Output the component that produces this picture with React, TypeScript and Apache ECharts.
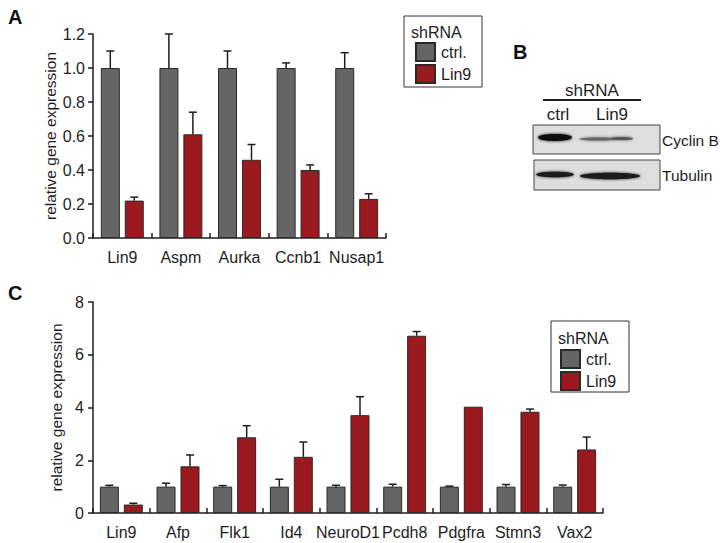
import React, { useEffect, useRef } from "react";
import * as echarts from "echarts";

const genesA = ["Lin9", "Aspm", "Aurka", "Ccnb1", "Nusap1"];
const ctrlA = [1.0, 1.0, 1.0, 1.0, 1.0];
const ctrlErrA = [1.1, 1.2, 1.1, 1.03, 1.09];
const lin9A = [0.22, 0.61, 0.46, 0.4, 0.23];
const lin9ErrA = [0.24, 0.74, 0.55, 0.43, 0.26];
const ticksA = [0, 0.2, 0.4, 0.6, 0.8, 1.0, 1.2];

const genesC = ["Lin9", "Afp", "Flk1", "Id4", "NeuroD1", "Pcdh8", "Pdgfra", "Stmn3", "Vax2"];
const ctrlC = [1.0, 1.0, 1.0, 1.0, 1.0, 1.0, 1.0, 1.0, 1.0];
const ctrlErrC = [1.05, 1.13, 1.04, 1.28, 1.05, 1.09, 1.02, 1.08, 1.06];
const lin9C = [0.32, 1.77, 2.87, 2.13, 3.71, 6.72, 4.03, 3.84, 2.41];
const lin9ErrC = [0.37, 2.2, 3.31, 2.69, 4.41, 6.88, 4.04, 3.94, 2.88];
const ticksC = [0, 2, 4, 6, 8];

const seriesNames = ["ctrl.", "Lin9"];
const FONT = "'Liberation Sans', Arial, sans-serif";
const GREY = "#656565";
const RED = "#9b1a1f";
const INK = "#1e1e1e";
const FS = 16;

function errData(vals: number[], errs: number[], side: number) {
  return vals.map((v, i) => [i, v, errs[i], side]);
}

const errRender = (params: any, api: any) => {
  const i = api.value(0);
  const side = api.value(3);
  const base = api.coord([i, api.value(1)]);
  const top = api.coord([i, api.value(2)]);
  const x = base[0] + side * 12;
  if (Math.abs(top[1] - base[1]) < 0.5) return null;
  return {
    type: "group",
    children: [
      { type: "line", shape: { x1: x, y1: base[1], x2: x, y2: top[1] }, style: { stroke: INK, lineWidth: 1.5 } },
      { type: "line", shape: { x1: x - 4, y1: top[1], x2: x + 4, y2: top[1] }, style: { stroke: INK, lineWidth: 1.5 } },
    ],
  };
};

export default function App() {
  const ref = useRef<HTMLDivElement>(null);
  useEffect(() => {
    document.body.style.margin = "0";
    const chart = echarts.init(ref.current!, null, { renderer: "svg" });

    const xAxisCommon = {
      type: "category",
      axisLine: { lineStyle: { color: INK, width: 1.5 } },
      axisTick: { show: true, inside: true, length: 5, alignWithLabel: false, interval: 0, lineStyle: { color: INK, width: 1.5 } },
      axisLabel: { color: INK, fontSize: FS, fontFamily: FONT, margin: 11, interval: 0 },
    };
    const yAxisCommon = {
      type: "value",
      nameLocation: "middle",
      nameRotate: 90,
      nameTextStyle: { color: INK, fontSize: 15.5, fontFamily: FONT },
      axisLine: { show: true, lineStyle: { color: INK, width: 1.5 } },
      axisTick: { show: true, length: 5, lineStyle: { color: INK, width: 1.5 } },
      splitLine: { show: false },
    };

    const barSeries = (name: string, data: number[], color: string, idx: number) => ({
      type: "bar",
      name,
      xAxisIndex: idx,
      yAxisIndex: idx,
      data,
      barWidth: 19,
      barGap: "26%",
      itemStyle: { color, borderColor: "#2a2a2a", borderWidth: 1 },
    });
    const errSeries = (data: number[][], idx: number) => ({
      type: "custom",
      xAxisIndex: idx,
      yAxisIndex: idx,
      renderItem: errRender,
      data,
      z: 5,
      silent: true,
    });

    const legendCommon = {
      orient: "vertical",
      data: seriesNames,
      icon: "rect",
      itemWidth: 19,
      itemHeight: 18,
      itemGap: 2,
      padding: 0,
      selectedMode: false,
      textStyle: { color: INK, fontSize: FS, fontFamily: FONT, padding: [0, 0, 0, 1] },
    };

    const txt = (x: number, y: number, text: string, extra: any = {}) => ({
      type: "text",
      x,
      y,
      style: { text, fill: INK, fontSize: FS, fontFamily: FONT, textVerticalAlign: "middle", ...extra },
    });
    const band = (cx: number, cy: number, rx: number, ry: number, fill: string) => ({
      type: "ellipse",
      shape: { cx, cy, rx, ry },
      style: { fill, shadowBlur: 3, shadowColor: fill },
    });

    chart.setOption({
      animation: false,
      grid: [
        { left: 93, top: 34, width: 293, height: 204 },
        { left: 93, top: 302, width: 510, height: 211 },
      ],
      xAxis: [
        { ...xAxisCommon, gridIndex: 0, data: genesA },
        { ...xAxisCommon, gridIndex: 1, data: genesC },
      ],
      yAxis: [
        {
          ...yAxisCommon,
          gridIndex: 0,
          min: ticksA[0],
          max: ticksA[ticksA.length - 1],
          interval: 0.2,
          name: "relative gene expression",
          nameGap: 30,
          axisLabel: { color: INK, fontSize: FS, fontFamily: FONT, margin: 8, formatter: (v: number) => v.toFixed(1) },
        },
        {
          ...yAxisCommon,
          gridIndex: 1,
          min: ticksC[0],
          max: ticksC[ticksC.length - 1],
          interval: 2,
          name: "relative gene expression",
          nameGap: 25,
          axisLabel: { color: INK, fontSize: FS, fontFamily: FONT, margin: 9 },
        },
      ],
      legend: [
        { ...legendCommon, left: 415, top: 42 },
        { ...legendCommon, left: 560, top: 349 },
      ],
      series: [
        barSeries(seriesNames[0], ctrlA, GREY, 0),
        barSeries(seriesNames[1], lin9A, RED, 0),
        errSeries(errData(ctrlA, ctrlErrA, -1), 0),
        errSeries(errData(lin9A, lin9ErrA, 1), 0),
        barSeries(seriesNames[0], ctrlC, GREY, 1),
        barSeries(seriesNames[1], lin9C, RED, 1),
        errSeries(errData(ctrlC, ctrlErrC, -1), 1),
        errSeries(errData(lin9C, lin9ErrC, 1), 1),
      ],
      graphic: [
        // panel labels
        txt(8, 17, "A", { fontSize: 20, fontWeight: "bold", fill: "#111" }),
        txt(513, 52, "B", { fontSize: 20, fontWeight: "bold", fill: "#111" }),
        txt(8, 293, "C", { fontSize: 20, fontWeight: "bold", fill: "#111" }),
        // legend frames
        { type: "rect", shape: { x: 404, y: 16, width: 78, height: 71 }, style: { fill: "none", stroke: "#333", lineWidth: 1 } },
        txt(411, 32, "shRNA"),
        { type: "rect", shape: { x: 551, y: 321, width: 78, height: 71 }, style: { fill: "none", stroke: "#333", lineWidth: 1 } },
        txt(558, 338, "shRNA"),
        // panel B
        txt(592, 90, "shRNA", { textAlign: "center", fontSize: 17 }),
        { type: "line", shape: { x1: 543, y1: 100, x2: 641, y2: 100 }, style: { stroke: "#222", lineWidth: 2 } },
        txt(558, 114, "ctrl", { textAlign: "center", fontSize: 17 }),
        txt(612, 114, "Lin9", { textAlign: "center", fontSize: 17 }),
        { type: "rect", shape: { x: 533, y: 125, width: 127, height: 29 }, style: { fill: "#dedede", stroke: "#444", lineWidth: 1 } },
        { type: "rect", shape: { x: 534, y: 160, width: 126, height: 30 }, style: { fill: "#dedede", stroke: "#444", lineWidth: 1 } },
        band(555, 137.5, 17, 3.4, "#111"),
        band(598, 139, 19, 1.5, "#666"),
        band(622, 138.5, 11, 1.6, "#555"),
        band(555, 174.5, 19, 2.8, "#1a1a1a"),
        band(610, 176, 30, 3.2, "#1a1a1a"),
        txt(662, 140, "Cyclin B", { fontSize: 15.5 }),
        txt(662, 175, "Tubulin", { fontSize: 15.5 }),
      ],
    });
    return () => chart.dispose();
  }, []);
  return <div ref={ref} style={{ width: 722, height: 543 }} />;
}
